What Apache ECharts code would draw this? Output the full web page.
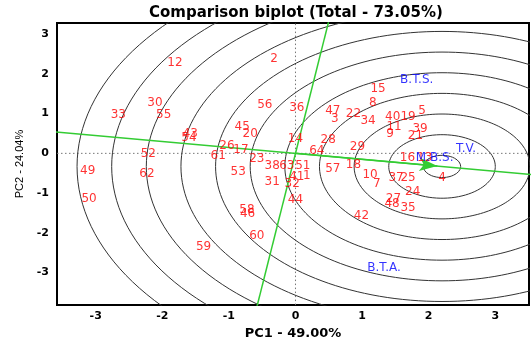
<!DOCTYPE html>
<html><head><meta charset="utf-8">
<script src="https://cdn.jsdelivr.net/npm/echarts@6/dist/echarts.min.js"></script>
<style>html,body{margin:0;padding:0;background:#fff}#c{width:531px;height:345px}</style>
</head><body><div id="c"></div>
<script>
// ---- data ----
const genotypeNames = ['12','2','33','30','55','43','54','52','49','62','50','59','60','58','46','56','36','45','20','26','61','17','23','53','14','64','38','63','51','31','41','32','1','44','47','3','22','34','15','8','40','19','5','11','9','39','21','28','29','57','18','10','7','16','13','4','24','27','48','35','42','37','25'];
const genotypeX = [-1.81,-0.32,-2.66,-2.11,-1.98,-1.58,-1.60,-2.21,-3.12,-2.23,-3.10,-1.38,-0.58,-0.73,-0.72,-0.46,0.02,-0.80,-0.68,-1.03,-1.16,-0.82,-0.58,-0.86,0.00,0.32,-0.35,-0.13,0.11,-0.35,0.02,-0.05,0.17,0.00,0.56,0.59,0.87,1.09,1.24,1.16,1.46,1.69,1.90,1.48,1.42,1.87,1.80,0.49,0.93,0.56,0.87,1.12,1.22,1.68,1.94,2.20,1.76,1.47,1.45,1.69,0.99,1.51,1.69];
const genotypeY = [2.28,2.37,0.98,1.27,0.98,0.49,0.40,-0.02,-0.45,-0.51,-1.14,-2.35,-2.07,-1.42,-1.53,1.22,1.15,0.66,0.49,0.20,-0.07,0.10,-0.15,-0.47,0.37,0.05,-0.32,-0.32,-0.32,-0.71,-0.59,-0.76,-0.56,-1.18,1.08,0.86,1.00,0.81,1.62,1.27,0.93,0.93,1.07,0.66,0.49,0.61,0.44,0.34,0.17,-0.39,-0.29,-0.54,-0.76,-0.12,-0.12,-0.61,-0.98,-1.15,-1.26,-1.37,-1.57,-0.61,-0.61];
const traitNames = ['B.T.S.','T.V.','M.B.S.','B.T.A.'];
const traitX = [1.82, 2.56, 2.09, 1.33];
const traitY = [1.86, 0.12, -0.12, -2.89];
const idealPoint = [2.2, -0.33];
const arrowEnd = [2.13, -0.32];
const circleRadii = [0.28, 0.80, 1.32, 1.84, 2.36, 2.88, 3.40, 3.92, 4.44, 4.96, 5.48];
const xTicks = [-3, -2, -1, 0, 1, 2, 3];
const yTicks = [-3, -2, -1, 0, 1, 2, 3];
const xRange = [-3.581, 3.506];
const yRange = [-3.821, 3.282];

// ---- build series ----
const GREEN = '#33cc33';
const series = [];
series.push({type:'line', data:[[0,yRange[0]],[0,yRange[1]]], symbol:'none', silent:true,
  lineStyle:{color:'#777', width:1, type:[1.5,2.5]}, z:1});
series.push({type:'line', data:[[xRange[0],0],[xRange[1],0]], symbol:'none', silent:true,
  lineStyle:{color:'#777', width:1, type:[1.5,2.5]}, z:1});
circleRadii.forEach(r => {
  const pts = [];
  for (let a = 0; a <= 360; a += 2) {
    const t = a * Math.PI / 180;
    pts.push([idealPoint[0] + r * Math.cos(t), idealPoint[1] + r * Math.sin(t)]);
  }
  series.push({type:'line', data:pts, symbol:'none', silent:true, smooth:false,
    lineStyle:{color:'#333', width:1}, z:2});
});
const k = 6;
series.push({type:'line', symbol:'none', silent:true, z:3,
  data:[[-k*idealPoint[0], -k*idealPoint[1]], [k*idealPoint[0], k*idealPoint[1]]],
  lineStyle:{color:GREEN, width:1.5},
  markLine:{silent:true, symbol:['none','arrow'], symbolSize:[10,18], label:{show:false},
    lineStyle:{color:GREEN, width:1.5, type:'solid'},
    data:[[{coord:[0,0]},{coord:arrowEnd}]]}});
series.push({type:'line', symbol:'none', silent:true, z:3,
  data:[[k*idealPoint[1], -k*idealPoint[0]], [-k*idealPoint[1], k*idealPoint[0]]],
  lineStyle:{color:GREEN, width:1.5}});
series.push({type:'scatter', symbolSize:1, itemStyle:{color:'rgba(0,0,0,0)'}, z:5,
  data: genotypeNames.map((n,i)=>({name:n, value:[genotypeX[i], genotypeY[i]]})),
  label:{show:true, position:'inside', formatter:p=>p.name, color:'#ff0000',
    fontFamily:'DejaVu Sans', fontSize:12}});
series.push({type:'scatter', symbolSize:1, itemStyle:{color:'rgba(0,0,0,0)'}, z:6,
  data: traitNames.map((n,i)=>({name:n, value:[traitX[i], traitY[i]]})),
  label:{show:true, position:'inside', formatter:p=>p.name, color:'#0000ff',
    fontFamily:'DejaVu Sans', fontSize:12}});

const chart = echarts.init(document.getElementById('c'), null, {renderer:'canvas'});
chart.setOption({
  animation:false,
  backgroundColor:'#fff',
  title:{text:'Comparison biplot (Total - 73.05%)', left:144, top:1,
    textStyle:{fontFamily:'DejaVu Sans', fontWeight:'bold', fontSize:15, color:'#000'}},
  grid:{left:57, right:2, top:23, bottom:32, show:true, borderColor:'#000', borderWidth:2, backgroundColor:'#fff'},
  xAxis:{type:'value', min:xRange[0], max:xRange[1],
    axisLine:{show:false}, axisTick:{show:false}, splitLine:{show:false},
    axisLabel:{customValues:xTicks, color:'#000', fontWeight:'bold', fontSize:11, fontFamily:'DejaVu Sans', margin:6},
    name:'PC1 - 49.00%', nameLocation:'middle', nameGap:21,
    nameTextStyle:{fontFamily:'DejaVu Sans', fontWeight:'bold', fontSize:13, color:'#000'}},
  yAxis:{type:'value', min:yRange[0], max:yRange[1],
    axisLine:{show:false}, axisTick:{show:false}, splitLine:{show:false},
    axisLabel:{customValues:yTicks, color:'#000', fontWeight:'bold', fontSize:11, fontFamily:'DejaVu Sans', margin:8},
    name:'PC2 - 24.04%', nameLocation:'middle', nameGap:32, nameRotate:90,
    nameTextStyle:{fontFamily:'Liberation Sans', fontSize:11, color:'#000'}},
  series: series
});
</script></body></html>
